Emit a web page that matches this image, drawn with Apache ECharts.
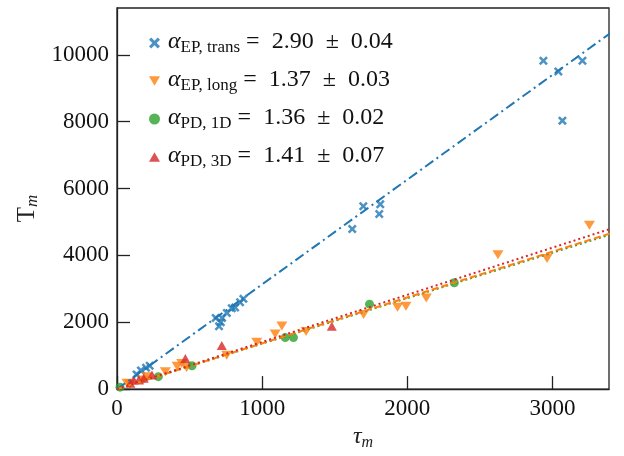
<!DOCTYPE html>
<html>
<head>
<meta charset="utf-8">
<script src="https://cdn.jsdelivr.net/npm/echarts@6/dist/echarts.min.js"></script>
<style>
  html, body { margin: 0; padding: 0; background: #fff; }
  #chart { width: 624px; height: 456px; }
</style>
</head>
<body>
<div id="chart"></div>
<script>
// tau_m, T_m
const epTransTau = [135, 165, 200, 225, 680, 703, 715, 724, 757, 791, 814, 848, 871, 1621, 1697, 1807, 1814, 2938, 3041, 3069, 3207];
const epTransT   = [440, 560, 640, 700, 2130, 1880, 2000, 2130, 2280, 2420, 2440, 2600, 2700, 4790, 5470, 5240, 5530, 9820, 9500, 8030, 9820];

const epLongTau = [69, 90, 181, 207, 333, 414, 446, 480, 756, 963, 1090, 1136, 1303, 1699, 1933, 1991, 2131, 2625, 2963, 3255];
const epLongT   = [176, 150, 274, 373, 520, 686, 765, 647, 1009, 1403, 1647, 1891, 1726, 2235, 2450, 2479, 2726, 4020, 3903, 4900];

const pd1dTau = [21, 285, 517, 1159, 1216, 1740, 2324];
const pd1dT   = [59, 373, 700, 1540, 1540, 2540, 3180];

const pd3dTau = [92, 115, 150, 184, 241, 471, 722, 1480];
const pd3dT   = [176, 274, 274, 324, 421, 912, 1303, 1880];

// fitted lines, end points
const fitTrans = [[0, 0], [3400, 10650]];
const fitLong  = [[0, 0], [3400, 4658]];
const fit1d    = [[0, 0], [3400, 4624]];
const fit3d    = [[0, 0], [3400, 4794]];

const seriesNames = ['EP trans', 'EP long', 'PD 1D', 'PD 3D'];
const legendText = {
  'EP trans': '{a|α}{s|EP, trans}{t| =  2.90  ±  0.04}',
  'EP long': '{a|α}{s|EP, long}{t| =  1.37  ±  0.03}',
  'PD 1D': '{a|α}{s|PD, 1D}{t| =  1.36  ±  0.02}',
  'PD 3D': '{a|α}{s|PD, 3D}{t| =  1.41  ±  0.07}'
};

const serif = 'Liberation Serif';
const blue = '#1f77b4', orange = '#ff7f0e', green = '#2ca02c', red = '#d62728';
const crossPath = 'path://M2,0L5,3L8,0L10,2L7,5L10,8L8,10L5,7L2,10L0,8L3,5L0,2Z';
const downTri = 'path://M0,0L10,0L5,8.66Z';
const upTri = 'path://M5,0L10,8.66L0,8.66Z';

const zip = (a, b) => a.map((v, i) => [v, b[i]]);

const chart = echarts.init(document.getElementById('chart'));

const axisCommon = {
  type: 'value',
  splitLine: { show: false },
  axisLine: { show: true, lineStyle: { color: '#222', width: 1.3 } },
  axisTick: { show: true, inside: true, length: 13, lineStyle: { color: '#222', width: 1.3 } },
  axisLabel: { fontFamily: serif, fontSize: 23, color: '#111', margin: 8, showMaxLabel: false, formatter: v => String(v) }
};

const fitLine = (data, color, type, z) => ({
  type: 'line',
  data: data,
  showSymbol: false,
  silent: true,
  z: z,
  lineStyle: { color: color, width: 2, type: type }
});

// main text sits at the top of the line, subscript at the bottom
const subRich = (mainSize, mainItalic, subSize, subItalic) => ({
  a: { fontFamily: serif, fontStyle: mainItalic ? 'italic' : 'normal', fontSize: mainSize, lineHeight: 22, verticalAlign: 'top' },
  s: { fontFamily: serif, fontStyle: subItalic ? 'italic' : 'normal', fontSize: subSize, lineHeight: 26, verticalAlign: 'bottom' },
  t: { fontFamily: serif, fontSize: mainSize, lineHeight: 22, verticalAlign: 'top' }
});

const option = {
  animation: false,
  backgroundColor: '#fff',
  grid: { left: 117, right: 15, top: 8, bottom: 60, show: true, borderColor: '#222', borderWidth: 1.3 },
  xAxis: Object.assign({}, axisCommon, {
    min: 0, max: 3390, interval: 1000,
    name: '{a|τ}{s|m}',
    nameLocation: 'middle',
    nameGap: 30,
    nameTextStyle: { rich: subRich(24, true, 16, true) }
  }),
  yAxis: Object.assign({}, axisCommon, {
    min: 0, max: 11400, interval: 2000,
    name: '{a|T}{s|m}',
    nameLocation: 'middle',
    nameGap: 57,
    nameTextStyle: { padding: [0, 20, 0, 0], rich: subRich(25, false, 17, true) }
  }),
  legend: {
    orient: 'vertical',
    left: 144,
    top: 25,
    itemWidth: 11,
    itemHeight: 11,
    itemGap: 12,
    data: seriesNames,
    formatter: name => legendText[name],
    textStyle: { color: '#111', padding: [0, 0, 0, 3], rich: subRich(24, true, 17, false) }
  },
  series: [
    { name: 'EP trans', type: 'scatter', data: zip(epTransTau, epTransT), symbol: crossPath, symbolSize: 9, itemStyle: { color: blue }, z: 3 },
    { name: 'EP long', type: 'scatter', data: zip(epLongTau, epLongT), symbol: downTri, symbolSize: [11, 9], itemStyle: { color: orange }, z: 3 },
    { name: 'PD 1D', type: 'scatter', data: zip(pd1dTau, pd1dT), symbol: 'circle', symbolSize: 9, itemStyle: { color: green }, z: 3 },
    { name: 'PD 3D', type: 'scatter', data: zip(pd3dTau, pd3dT), symbol: upTri, symbolSize: [10, 9], itemStyle: { color: red }, z: 3 },
    fitLine(fitTrans, blue, [10, 4, 2, 4], 4),
    fitLine(fit1d, green, [2, 3], 4),
    fitLine(fitLong, orange, [7, 3], 5),
    fitLine(fit3d, red, [2, 3], 6)
  ]
};

chart.setOption(option);
</script>
</body>
</html>
